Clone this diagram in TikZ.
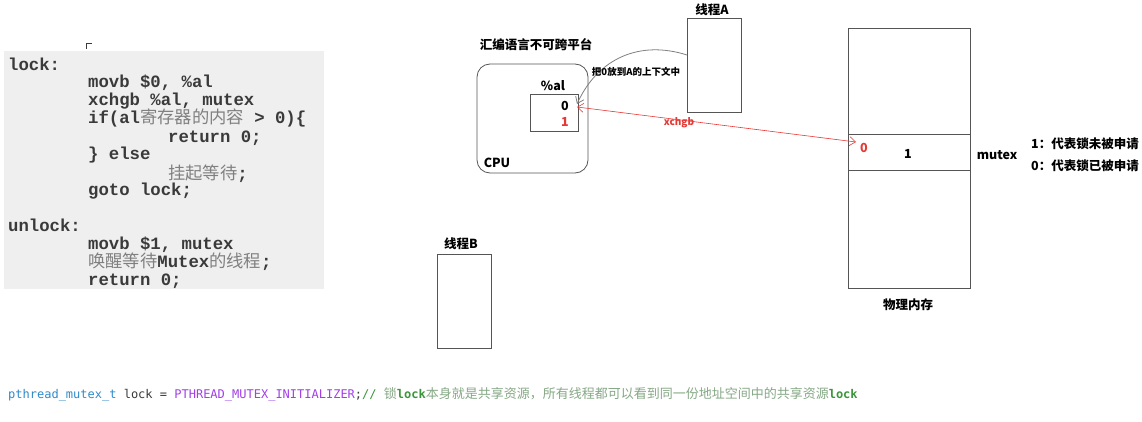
\documentclass[tikz,border=0pt]{standalone}
\usepackage{fontspec}
\usetikzlibrary{arrows.meta}
\newfontfamily\cjk{Noto Sans CJK SC}
\newfontfamily\codefont{Liberation Mono}
\newfontfamily\consfont{DejaVu Sans Mono}
\definecolor{codebg}{HTML}{EFEFEF}
\definecolor{codetx}{HTML}{3A3A3A}
\definecolor{cjkgray}{HTML}{808080}
\definecolor{redc}{HTML}{E53935}
\definecolor{boxc}{HTML}{555555}
\definecolor{typeblue}{HTML}{2E8BC9}
\definecolor{macpurple}{HTML}{A23FE6}
\definecolor{cmtgreen}{HTML}{3A963A}
\definecolor{cmtlight}{HTML}{86A886}
\newcommand{\cz}[1]{{\cjk\mdseries\color{cjkgray}#1}}
\tikzset{
  code/.style={anchor=base west, inner sep=0pt, text=codetx,
    font=\codefont\bfseries\fontsize{17.3}{18}\selectfont},
  lbl/.style={inner sep=0pt, font=\cjk\bfseries\fontsize{12.5}{14}\selectfont},
  small/.style={inner sep=0pt, font=\cjk\bfseries\fontsize{9.5}{11}\selectfont},
  frame/.style={draw=boxc, line width=0.8pt, inner sep=0pt},
  redarrow/.style={draw=redc, line width=0.6pt, {Straight Barb[length=6pt,width=9pt]}-{Straight Barb[length=6pt,width=9pt]}},
  grayarrow/.style={draw=gray, line width=0.8pt, -{Straight Barb[length=6pt,width=9pt]}},
}
\begin{document}
\begin{tikzpicture}[x=1pt,y=-1pt]
\useasboundingbox[fill=white] (0,0) rectangle (1142,422);
% code box
\node[fill=codebg, inner sep=0pt, minimum width=320pt, minimum height=238pt, anchor=north west] (codebox) at (4,51) {};
\draw[line width=0.9pt, codetx] (86,49) -- (86,43) -- (92,43);
\node[code] (c1) at (8,71) {lock:};
\node[code] (c2) at (88,88) {movb \$0, \%al};
\node[code] (c3) at (88,106) {xchgb \%al, mutex};
\node[code] (c4) at (88,124) {if(al\cz{寄存器的内容} > 0)\{};
\node[code] (c5) at (168,143) {return 0;};
\node[code] (c6) at (88,160) {\} else};
\node[code] (c7) at (168,179) {\cz{挂起等待};};
\node[code] (c8) at (88,196) {goto lock;};
\node[code] (c9) at (8,231) {unlock:};
\node[code] (c10) at (88,249) {movb \$1, mutex};
\node[code] (c11) at (88,267) {\cz{唤醒等待}Mutex\cz{的线程};};
\node[code] (c12) at (88,285) {return 0;};
% CPU
\node[lbl] (title) at (536,45) {汇编语言不可跨平台};
\draw[frame, rounded corners=13pt] (477,64) rectangle (588,173);
\node[lbl] (cpu) at (497,163) {CPU};
\node[lbl] (allbl) at (553,86) {\%al};
\node[frame, minimum width=48pt, minimum height=37pt] (reg) at (554,112.5) {};
\node[lbl] (r0) at (565,106) {0};
\node[lbl, text=redc] (r1) at (565,122) {1};
% thread A
\node[lbl] (tAlbl) at (712,10) {线程A};
\node[frame, minimum width=54pt, minimum height=94pt] (tA) at (714,65) {};
\coordinate (cA) at (687,55);
\coordinate (regTip) at (577,104);
\draw[grayarrow] (cA) .. controls (640,40) and (598,58) .. (regTip);
\node[small] (ctx) at (636,72) {把0放到A的上下文中};
% thread B
\node[lbl] (tBlbl) at (461,244) {线程B};
\node[frame, minimum width=54pt, minimum height=94pt] (tB) at (464,301) {};
% memory
\node[frame, minimum width=122pt, minimum height=260pt] (mem) at (909,158) {};
\node[frame, minimum width=122pt, minimum height=36pt] (mrow) at (909,152) {};
\node[lbl, text=redc] (m0) at (864,148) {0};
\node[lbl] (m1) at (908,154) {1};
\node[lbl] (mutex) at (997,155) {mutex};
\node[lbl, anchor=west] (leg1) at (1031,144) {1：代表锁未被申请};
\node[lbl, anchor=west] (leg0) at (1031,166) {0：代表锁已被申请};
\node[lbl] (phys) at (908,305) {物理内存};
% xchgb arrow
\coordinate (regR) at (577,107);
\coordinate (memL) at (856,142);
\draw[redarrow] (regR) -- (memL);
\node[inner sep=0pt, text=redc, font=\cjk\bfseries\fontsize{10}{11}\selectfont] (xch) at (679,123) {xchgb};
% bottom line
\node[anchor=base west, inner sep=0pt, font=\consfont\fontsize{12}{14}\selectfont] (bottom) at (8,398)
 {\textcolor{typeblue}{pthread\_mutex\_t} \textcolor{codetx}{lock =} \textcolor{macpurple}{PTHREAD\_MUTEX\_INITIALIZER}\textcolor{codetx}{;}\textcolor{cmtgreen}{// }{\cjk\fontsize{13}{14}\selectfont\color{cmtlight}锁}\textcolor{cmtgreen}{\bfseries lock}{\cjk\fontsize{13}{14}\selectfont\color{cmtlight}本身就是共享资源，所有线程都可以看到同一份地址空间中的共享资源}\textcolor{cmtgreen}{\bfseries lock}};
\end{tikzpicture}
\end{document}
